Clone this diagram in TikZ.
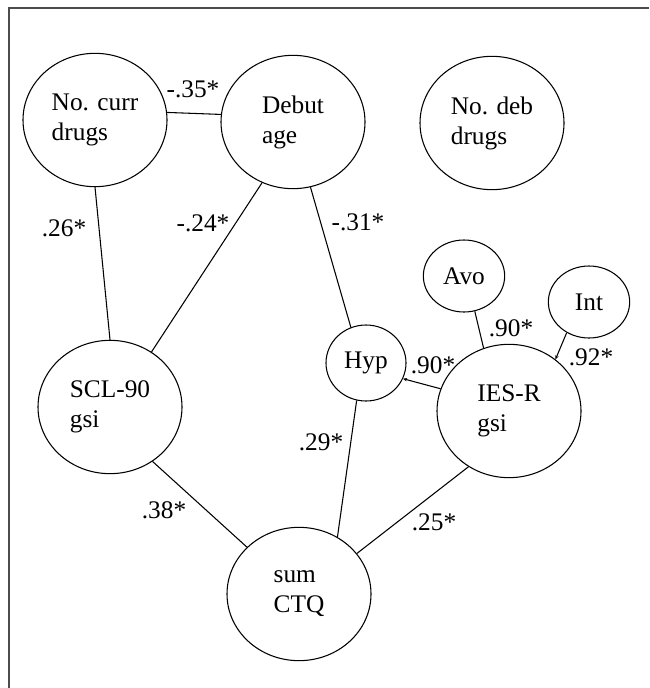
\documentclass[tikz,border=0pt]{standalone}
\usepackage{fontspec}
\setmainfont{Liberation Serif}
\usetikzlibrary{shapes.geometric,arrows.meta}
\tikzset{
  bigvar/.style={draw,ellipse,line width=0.8pt,minimum width=108pt,minimum height=100pt,inner sep=0pt,align=left},
  smallvar/.style={draw,ellipse,line width=0.8pt,minimum width=61pt,minimum height=54pt,inner sep=0pt},
  coef/.style={inner sep=0pt},
  link/.style={line width=0.8pt}
}
\begin{document}
\begin{tikzpicture}[x=0.75pt,y=-0.75pt,>={Stealth[length=3pt,width=2.6pt]},font=\fontsize{19}{22.5}\selectfont]
\useasboundingbox (0,0) rectangle (649,688);
% frame
\draw[line width=1.6pt,black!70] (649,8) -- (9,8) -- (9,688);

% variables
\node[bigvar] (curr) at (95,120) {No. curr\\drugs};
\node[bigvar] (debut) at (293,122) {Debut\\age};
\node[bigvar] (deb) at (492,123) {No. deb\\drugs};
\node[bigvar] (scl) at (110,407) {SCL-90\\gsi};
\node[bigvar] (ies) at (509,411) {IES-R\\gsi};
\node[bigvar] (ctq) at (299,594) {sum\\CTQ};
\node[smallvar] (avo) at (464,276) {Avo};
\node[smallvar] (int) at (589,302) {Int};
\node[smallvar,minimum width=60pt,minimum height=57pt] (hyp) at (366,363) {Hyp};

% correlations
\draw[link] (curr.6) -- (debut.174);
\draw[link] (curr.south) -- (scl.north);
\draw[link] (debut.243) -- (scl.53);
\draw[link] (debut.285) -- (hyp.113);
\draw[link,->] (ies.162) -- (hyp.337);
\draw[link] (avo.287) -- (ies.112);
\draw[link,->] (int.234) -- (ies.48);
\draw[link] (scl.308) -- (ctq.138);
\draw[link] (hyp.256) -- (ctq.56);
\draw[link] (ies.234) -- (ctq.35);

% coefficients
\node[coef] (c35) at (193,89) {-.35*};
\node[coef] (c26) at (64,228) {.26*};
\node[coef] (c24) at (203,223) {-.24*};
\node[coef] (c31) at (358,222) {-.31*};
\node[coef] (c90a) at (511,328) {.90*};
\node[coef] (c92) at (591,357) {.92*};
\node[coef] (c90h) at (433,365) {.90*};
\node[coef] (c29) at (321,442) {.29*};
\node[coef] (c38) at (164,510) {.38*};
\node[coef] (c25) at (434,522) {.25*};
\end{tikzpicture}
\end{document}
